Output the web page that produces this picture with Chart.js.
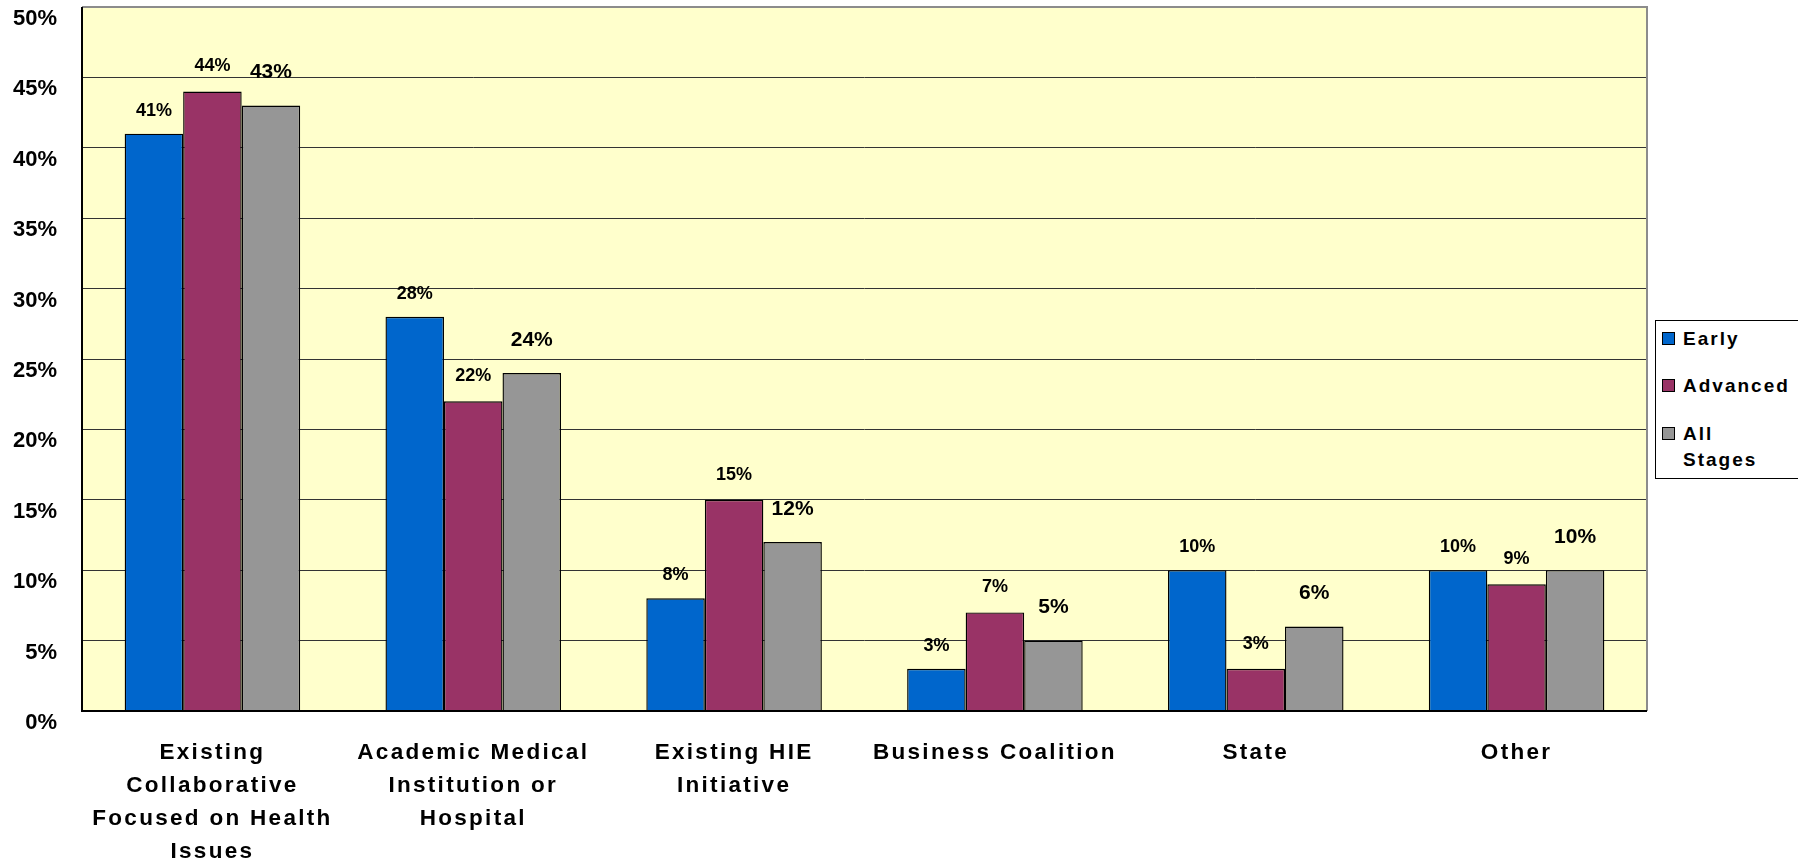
<!DOCTYPE html>
<html><head><meta charset="utf-8">
<script src="https://cdn.jsdelivr.net/npm/chart.js@4.4.1/dist/chart.umd.min.js"></script>
<style>
html,body{margin:0;padding:0;background:#fff;overflow:hidden}
#wrap{position:relative;width:1798px;height:859px}
#legend{position:absolute;left:1655px;top:320px;width:160px;height:159px;border:1px solid #000;box-sizing:border-box;background:#fff;font:bold 19px "Liberation Sans",Arial,sans-serif;letter-spacing:2px;color:#000;line-height:26px}
.item{position:absolute;left:6px;display:flex;align-items:flex-start}
.sw{width:13px;height:13px;border:1px solid #000;box-sizing:border-box;margin-right:8px;margin-top:6px;flex:none}
</style></head>
<body>
<div id="wrap">
<canvas id="c"></canvas>
<div id="legend"></div>
</div>
<script>
const categories = [
  ["Existing","Collaborative","Focused on Health","Issues"],
  ["Academic Medical","Institution or","Hospital"],
  ["Existing HIE","Initiative"],
  ["Business Coalition"],
  ["State"],
  ["Other"]
];
const seriesNames = ["Early","Advanced","All Stages"];
const early = [41,28,8,3,10,10];
const advanced = [44,22,15,7,3,9];
const allStages = [43,24,12,5,6,10];
const yMin = 0, yMax = 50, yStep = 5;

const colors = ["#0066CC","#993366","#969696"];
const labelFont = [18,18,21];
const labelLift = [23,25,33];

const legendEl = document.getElementById('legend');
const legendTops = [5,52,100];
seriesNames.forEach((n,i)=>{
  const d=document.createElement('div');d.className='item';d.style.top=legendTops[i]+'px';
  const s=document.createElement('div');s.className='sw';s.style.background=colors[i];
  const t=document.createElement('div');
  if(n==="All Stages"){t.innerHTML='All<br>Stages';} else t.textContent=n;
  d.appendChild(s);d.appendChild(t);legendEl.appendChild(d);
});

const FONT = '"Liberation Sans", Arial, sans-serif';

const bgPlugin = {
  id:'bg',
  beforeDraw(chart){
    const {ctx, chartArea:a} = chart;
    ctx.save(); ctx.fillStyle='#FFFFCC';
    ctx.fillRect(a.left,a.top,a.right-a.left,a.bottom-a.top);
    ctx.restore();
  },
  afterDatasetsDraw(chart){
    const {ctx, chartArea:a} = chart;
    ctx.save();
    ctx.fillStyle='#000'; ctx.textAlign='center'; ctx.textBaseline='middle';
    chart.data.datasets.forEach((ds,di)=>{
      const meta = chart.getDatasetMeta(di);
      ctx.font = 'bold '+labelFont[di]+'px '+FONT;
      meta.data.forEach((bar,i)=>{
        ctx.fillText(ds.data[i]+'%', bar.x, bar.y - labelLift[di]);
      });
    });
    ctx.strokeStyle='#8c8c8c'; ctx.lineWidth=2;
    ctx.beginPath();
    ctx.moveTo(a.left,a.top); ctx.lineTo(a.right,a.top); ctx.lineTo(a.right,a.bottom);
    ctx.stroke();
    ctx.strokeStyle='#000'; ctx.lineWidth=2;
    ctx.beginPath();
    ctx.moveTo(a.left,a.top); ctx.lineTo(a.left,a.bottom); ctx.lineTo(a.right,a.bottom);
    ctx.stroke();
    ctx.restore();
    ctx.letterSpacing = '2.3px';
  },
  afterDraw(chart){ chart.ctx.letterSpacing = '0px'; }
};

new Chart(document.getElementById('c'), {
  type:'bar',
  data:{
    labels: categories,
    datasets: seriesNames.map((n,i)=>({
      label:n,
      data:[early,advanced,allStages][i],
      backgroundColor:colors[i],
      borderColor:'#000',
      borderWidth:1.4,
      barPercentage:1,
      categoryPercentage:0.673
    }))
  },
  options:{
    responsive:true, maintainAspectRatio:false, animation:false,
    layout:{padding:{top:7,right:151,left:0,bottom:0}},
    plugins:{legend:{display:false}, tooltip:{enabled:false}, title:{display:false}},
    scales:{
      x:{
        grid:{display:false},
        border:{display:false},
        ticks:{
          z:1, color:'#000', maxRotation:0, autoSkip:false, padding:17,
          font:{family:FONT, size:22.5, weight:'bold', lineHeight:1.47}
        },
        afterFit(s){ s.height=148; s.paddingLeft=0; s.paddingRight=0; }
      },
      y:{
        min:yMin, max:yMax,
        grid:{color:'#333', lineWidth:1, drawTicks:false},
        border:{display:false},
        ticks:{
          stepSize:yStep, color:'#000', padding:25, labelOffset:12,
          font:{family:FONT, size:22, weight:'bold'},
          callback:v=>v+'%'
        },
        afterFit(s){ s.width=82; s.paddingTop=0; s.paddingBottom=0; }
      }
    }
  },
  plugins:[bgPlugin]
});
</script>
</body></html>
